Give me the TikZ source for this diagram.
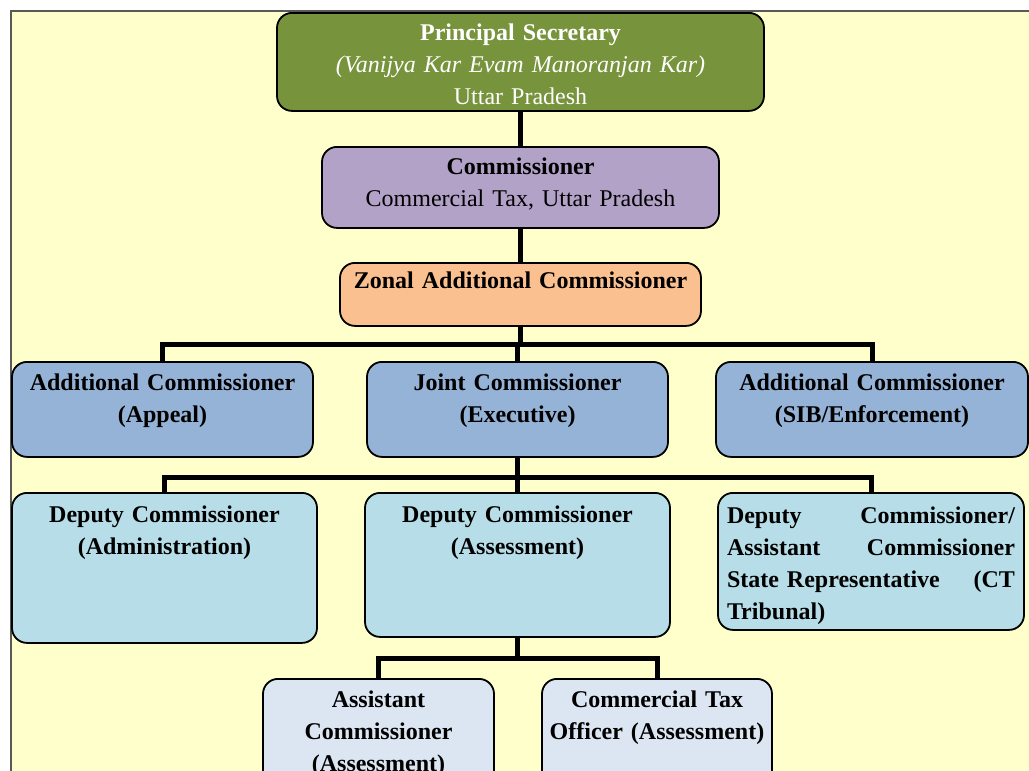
\documentclass[tikz,border=0pt]{standalone}
\usepackage{fontspec}
\setmainfont{Liberation Serif}
\usetikzlibrary{calc}
\definecolor{bgyellow}{HTML}{FFFFCC}
\definecolor{bggray}{HTML}{595959}
\definecolor{psgreen}{HTML}{77933C}
\definecolor{commpurple}{HTML}{B2A2C7}
\definecolor{zonalorange}{HTML}{FAC090}
\definecolor{lvltwo}{HTML}{95B3D7}
\definecolor{lvlthree}{HTML}{B7DEE8}
\definecolor{lvlfour}{HTML}{DCE6F2}
\tikzset{
  box/.style={draw=black, line width=1.8pt, rounded corners=15pt, anchor=north,
    inner xsep=8pt, inner ysep=0pt, align=center,
    font=\fontsize{24}{32}\selectfont\bfseries},
  conn/.style={line width=5pt, draw=black}
}
\begin{document}
\begin{tikzpicture}
\useasboundingbox (0,0) rectangle (1029pt,-771pt);
\clip (0,0) rectangle (1029pt,-771pt);
\fill[bgyellow, draw=bggray, line width=1.5pt] (11pt,-11pt) rectangle (1060pt,-800pt);

% level 0 - 1
\node[box, fill=psgreen, text=white, text width=471pt, text height=28pt, text depth=70pt] (ps) at (520.5pt,-12pt)
  {Principal Secretary\\ \mdseries\itshape (Vanijya Kar Evam Manoranjan Kar)\\ \upshape Uttar Pradesh};
\node[box, fill=commpurple, text width=381pt, text height=28pt, text depth=53pt] (comm) at (520.5pt,-146pt)
  {Commissioner\\ \mdseries Commercial Tax, Uttar Pradesh};
\node[box, fill=zonalorange, text width=345pt, text height=26pt, text depth=37pt] (zonal) at (520.5pt,-262pt)
  {Zonal Additional Commissioner};

% level 2
\node[box, fill=lvltwo, text width=285pt, text height=29pt, text depth=66pt] (aca) at (162.5pt,-361pt)
  {Additional Commissioner\\ (Appeal)};
\node[box, fill=lvltwo, text width=285pt, text height=29pt, text depth=66pt] (jc) at (517.5pt,-361pt)
  {Joint Commissioner\\ (Executive)};
\node[box, fill=lvltwo, text width=296pt, text height=29pt, text depth=66pt] (acs) at (872pt,-361pt)
  {Additional Commissioner\\ (SIB/Enforcement)};

% level 3
\node[box, fill=lvlthree, text width=289pt, text height=30pt, text depth=120pt] (dca) at (164.5pt,-492pt)
  {Deputy Commissioner\\ (Administration)};
\node[box, fill=lvlthree, text width=289pt, text height=30pt, text depth=114pt] (dcs) at (517.5pt,-492pt)
  {Deputy Commissioner\\ (Assessment)};
\node[box, fill=lvlthree, align=left, inner xsep=9pt, text width=288pt, text height=31pt, text depth=106pt] (dct) at (871pt,-492pt)
  {Deputy\hfill Commissioner/\\ Assistant\hfill Commissioner\\ State Representative\hfill (CT\\ Tribunal)};

% level 4
\node[box, fill=lvlfour, inner xsep=4pt, text width=223pt, text height=29pt, text depth=91pt] (acass) at (378.5pt,-678pt)
  {Assistant\\ Commissioner\\ (Assessment)};
\node[box, fill=lvlfour, inner xsep=4pt, text width=222pt, text height=29pt, text depth=91pt] (cto) at (657pt,-678pt)
  {Commercial Tax\\ Officer (Assessment)};

% connectors
\draw[conn] (ps.south) -- (comm.north);
\draw[conn] (comm.south) -- (zonal.north);
\draw[conn] (zonal.south) -- ++(0,-18pt) coordinate (h1);
\draw[conn] (aca.north) |- (h1) -| (acs.north);
\draw[conn] (jc.north) -- (jc.north |- h1);

\draw[conn] (jc.south) -- ++(0,-20pt) coordinate (h2);
\draw[conn] (dca.north) |- (h2) -| (dct.north);
\draw[conn] (dcs.north) -- (dcs.north |- h2);

\draw[conn] (dcs.south) -- ++(0,-21pt) coordinate (h3);
\draw[conn] (acass.north) |- (h3) -| (cto.north);
\end{tikzpicture}
\end{document}
